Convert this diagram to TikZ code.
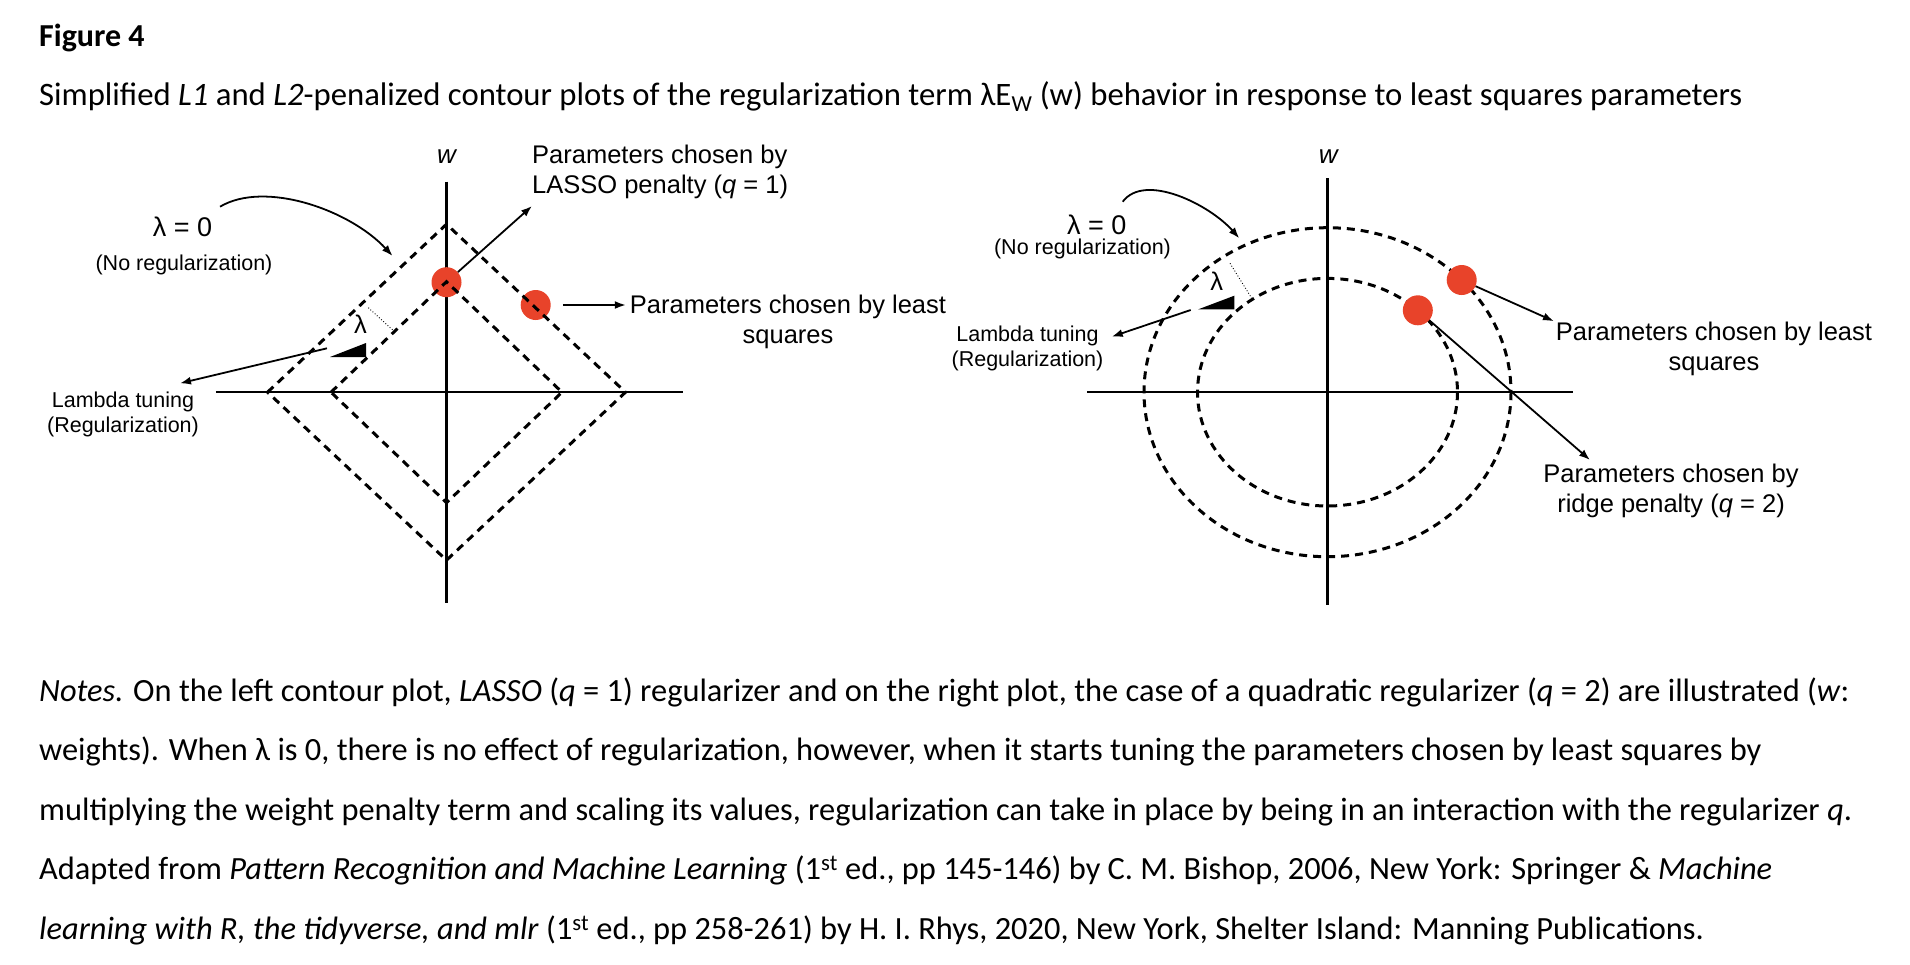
\documentclass[tikz,border=0pt]{standalone}
\usepackage{fontspec}
\setmainfont{Carlito}
\newfontfamily\arialf{Liberation Sans}
\usetikzlibrary{arrows.meta}
\definecolor{dotred}{HTML}{E8432A}

\begin{document}
\begin{tikzpicture}[x=1pt,y=-1pt,
  txt/.style={anchor=base west,inner sep=0pt,font=\fontsize{32.4}{36}\selectfont},
  lbl/.style={font=\arialf\fontsize{25.5}{30}\selectfont,align=center,inner sep=0pt},
  sml/.style={font=\arialf\fontsize{21.5}{25}\selectfont,align=center,inner sep=0pt},
  ax/.style={line width=2.4pt},
  cont/.style={line width=3pt,dash pattern=on 8pt off 6pt},
  arr/.style={line width=1.8pt,-{Latex[length=11pt,width=8pt]}},
  dot/.style={circle,fill=dotred,minimum size=30pt,inner sep=0pt}]
\useasboundingbox (0,0) rectangle (1910,964);

\node[txt,font=\bfseries\fontsize{32}{36}\selectfont] (fig) at (39,46) {Figure 4};
\node[txt,font=\fontsize{32.7}{36}\selectfont] (cap) at (39,105) {Simplified \textit{L1} and \textit{L2}-penalized contour plots of the regularization term λE\textsubscript{W} (w) behavior in response to least squares parameters};

% left plot: L1
\draw[ax] (446.5,181.7) -- (446.5,603.3);
\draw[ax] (215.8,392.2) -- (683.2,392.2);
\node[lbl,font=\arialf\itshape\fontsize{26}{30}\selectfont] (wL) at (446.5,156.7) {w};
\node[dot] (dotLa) at (446.5,282.2) {};
\node[dot] (dotLb) at (535.7,305) {};
\foreach \a/\b in {179/168,115.5/110.5}
  \draw[cont] ({446.5-\a},392.2) -- (446.5,{392.2-\b}) -- ({446.5+\a},392.2) -- (446.5,{392.2+\b}) -- cycle;
\draw[dotted,line width=0.9pt] (368.3,307.7) -- (392.7,330);
\fill (330,357) -- (366,357) -- (366,343) -- cycle;
\node[lbl] (lamL) at (360.5,324) {λ};
\node[lbl,font=\arialf\fontsize{27}{30}\selectfont] (zeroL) at (182.5,227) {λ = 0};
\node[sml] (noregL) at (184,265) {(No regularization)};
\node[sml] (tuneL) at (123,414.6) {Lambda tuning\\(Regularization)};
\node[lbl,align=left,anchor=west] (lassoL) at (532,172) {Parameters chosen by\\LASSO penalty (\textit{q} = 1)};
\node[lbl] (lsqL) at (788,322.4) {Parameters chosen by least\\squares};
\coordinate (curvesL) at (220,206.7);
\coordinate (curvetL) at (392.6,256);
\coordinate (lassotip) at (532,206);
\coordinate (tunesL) at (327,348.3);
\coordinate (tunetL) at (180,383.3);
\draw[arr] (curvesL) .. controls (265,180) and (350,210) .. (curvetL);
\draw[arr] (dotLa) -- (lassotip);
\draw[arr,shorten <=12pt,shorten >=4pt] (dotLb) -- (lsqL.west |- dotLb);
\draw[arr] (tunesL) -- (tunetL);

% right plot: L2
\draw[ax] (1327.5,178.3) -- (1327.5,605);
\draw[ax] (1087.3,392.2) -- (1572.7,392.2);
\node[lbl,font=\arialf\itshape\fontsize{26}{30}\selectfont] (wR) at (1328.3,156.7) {w};
\foreach \a/\b in {183.5/164.5,130/113.8}
  \draw[cont] (1327.5,392.2) ellipse [x radius=\a,y radius=\b];
\node[dot] (dotRa) at (1461.7,280) {};
\node[dot] (dotRb) at (1417.8,310.3) {};
\draw[dotted,line width=0.9pt] (1230,263.3) -- (1251.7,298.3);
\fill (1198.3,309.3) -- (1234.3,309.3) -- (1234.3,295.7) -- cycle;
\node[lbl] (lamR) at (1216.7,281.7) {λ};
\node[lbl,font=\arialf\fontsize{27}{30}\selectfont] (zeroR) at (1096.7,225) {λ = 0};
\node[sml] (noregR) at (1082.5,248.8) {(No regularization)};
\node[sml] (tuneR) at (1027.5,348.8) {Lambda tuning\\(Regularization)};
\node[lbl] (lsqR) at (1714,349.1) {Parameters chosen by least\\squares};
\node[lbl] (ridgeR) at (1671,490.7) {Parameters chosen by\\ridge penalty (\textit{q} = 2)};
\coordinate (curvesR) at (1122.7,201.7);
\coordinate (curvetR) at (1239.3,238.3);
\coordinate (ridgetip) at (1590,460);
\coordinate (tunesR) at (1190.7,310);
\coordinate (tunetR) at (1111.7,336.7);
\draw[arr] (curvesR) .. controls (1145,172) and (1210,205) .. (curvetR);
\draw[arr,shorten >=2pt] (dotRa) -- (lsqR.north west);
\draw[arr] (dotRb) -- (ridgetip);
\draw[arr] (tunesR) -- (tunetR);

\foreach \ln [count=\i] in {
  {\textit{Notes.} On the left contour plot, \textit{LASSO} (\textit{q} = 1) regularizer and on the right plot, the case of a quadratic regularizer (\textit{q} = 2) are illustrated (\textit{w}:},
  {weights). When λ is 0, there is no effect of regularization, however, when it starts tuning the parameters chosen by least squares by},
  {multiplying the weight penalty term and scaling its values, regularization can take in place by being in an interaction with the regularizer \textit{q}.},
  {Adapted from \textit{Pattern Recognition and Machine Learning} (1\textsuperscript{st} ed., pp 145-146) by C. M. Bishop, 2006, New York: Springer \& \textit{Machine}},
  {\textit{learning with R, the tidyverse, and mlr} (1\textsuperscript{st} ed., pp 258-261) by H. I. Rhys, 2020, New York, Shelter Island: Manning Publications.}}
  \node[txt] (note\i) at (39,{701.5+(\i-1)*59.4}) {\ln};
\end{tikzpicture}
\end{document}
